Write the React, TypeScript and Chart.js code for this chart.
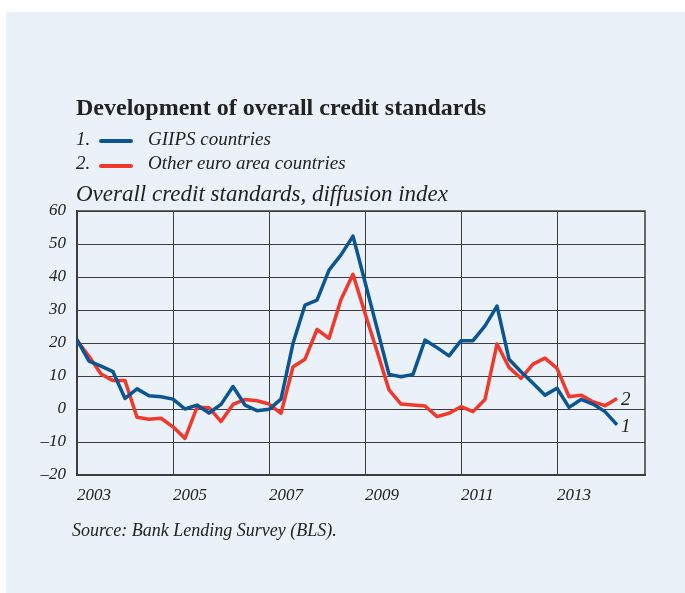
import React, { useEffect, useRef } from "react";
import { Chart, registerables } from "chart.js";
Chart.register(...registerables);

// Quarterly observations, 2003Q1 .. 2014Q2
const quarters = [
  "2003Q1","2003Q2","2003Q3","2003Q4","2004Q1","2004Q2","2004Q3","2004Q4",
  "2005Q1","2005Q2","2005Q3","2005Q4","2006Q1","2006Q2","2006Q3","2006Q4",
  "2007Q1","2007Q2","2007Q3","2007Q4","2008Q1","2008Q2","2008Q3","2008Q4",
  "2009Q1","2009Q2","2009Q3","2009Q4","2010Q1","2010Q2","2010Q3","2010Q4",
  "2011Q1","2011Q2","2011Q3","2011Q4","2012Q1","2012Q2","2012Q3","2012Q4",
  "2013Q1","2013Q2","2013Q3","2013Q4","2014Q1","2014Q2",
];

// 1. GIIPS countries
const giips = [
  21, 14.5, 13, 11.3, 3.2, 6.1, 4.0, 3.7,
  3.0, 0, 1.2, -1.2, 1.4, 6.8, 1.2, -0.5,
  -0.1, 3.0, 19.9, 31.5, 33.0, 42.1, 46.7, 52.4,
  38.5, 24.5, 10.5, 9.8, 10.5, 20.9, 18.6, 16.1,
  20.7, 20.7, 25.2, 31.2, 15.1, 11.3, 7.8, 4.2,
  6.3, 0.5, 2.9, 1.5, -0.8, -4.8,
];

// 2. Other euro area countries
const otherEuro = [
  20.7, 16, 10.6, 8.6, 8.6, -2.5, -3.1, -2.8,
  -5.4, -8.9, 0.5, 0.4, -3.8, 1.4, 2.9, 2.5,
  1.5, -1.3, 12.8, 15.1, 24.1, 21.4, 33.2, 40.8,
  29, 17.5, 5.8, 1.5, 1.2, 0.9, -2.3, -1.3,
  0.7, -0.8, 2.9, 19.7, 12.6, 9.3, 13.6, 15.4,
  12.3, 3.7, 4.2, 2.2, 1.0, 3.2,
];

const yTicks = [-20, -10, 0, 10, 20, 30, 40, 50, 60];
const xTickYears = [2003, 2005, 2007, 2009, 2011, 2013];
const xMin = 2003;
const xMax = 2014.833;

const seriesNames = ["GIIPS countries", "Other euro area countries"];
const endLabels = ["1", "2"];

const BLUE = "#0b5592";
const RED = "#f0392b";
const GRID = "#3c3c3c";
const TEXT = "#222222";
const BG = "#eaf1f8";
const SERIF = "'Liberation Serif', 'Times New Roman', serif";

function quarterToYear(q: string): number {
  const y = parseInt(q.slice(0, 4), 10);
  const n = parseInt(q.slice(5), 10);
  return y + (n - 1) / 4;
}

const frameAndLabels = {
  id: "frameAndLabels",
  beforeDatasetsDraw(chart: any) {
    const { ctx, chartArea } = chart;
    ctx.save();
    ctx.strokeStyle = GRID;
    ctx.lineWidth = 1.5;
    ctx.strokeRect(chartArea.left, chartArea.top, chartArea.right - chartArea.left, chartArea.bottom - chartArea.top);
    ctx.restore();
  },
  afterDatasetsDraw(chart: any) {
    const { ctx } = chart;
    ctx.save();
    ctx.font = `italic 19px ${SERIF}`;
    ctx.fillStyle = TEXT;
    ctx.textAlign = "left";
    ctx.textBaseline = "middle";
    chart.data.datasets.forEach((ds: any, i: number) => {
      const meta = chart.getDatasetMeta(i);
      const last = meta.data[meta.data.length - 1];
      if (!last) return;
      ctx.fillText(endLabels[i], last.x + 4, last.y + 2);
    });
    ctx.restore();
  },
};

export default function App() {
  const ref = useRef<HTMLCanvasElement | null>(null);

  useEffect(() => {
    if (!ref.current) return;
    const xs = quarters.map(quarterToYear);
    const chart = new Chart(ref.current, {
      type: "line",
      data: {
        datasets: [
          {
            label: seriesNames[0],
            data: xs.map((x, i) => ({ x, y: giips[i] })),
            borderColor: BLUE,
            borderWidth: 3.5,
            pointRadius: 0,
            tension: 0,
            borderJoinStyle: "round",
          },
          {
            label: seriesNames[1],
            data: xs.map((x, i) => ({ x, y: otherEuro[i] })),
            borderColor: RED,
            borderWidth: 3.5,
            pointRadius: 0,
            tension: 0,
            borderJoinStyle: "round",
          },
        ],
      },
      options: {
        animation: false,
        responsive: false,
        maintainAspectRatio: false,
        devicePixelRatio: 1,
        layout: { padding: { left: 0, top: 199, right: 40, bottom: 0 } },
        plugins: {
          legend: { display: false },
          tooltip: { enabled: false },
          title: { display: false },
        },
        scales: {
          x: {
            type: "linear",
            min: xMin,
            max: xMax,
            afterBuildTicks: (s: any) => {
              s.ticks = xTickYears.map((v) => ({ value: v }));
            },
            afterFit: (s: any) => {
              s.height = 118;
            },
            grid: { color: GRID, lineWidth: 1, drawTicks: false },
            border: { color: GRID, width: 1.5 },
            ticks: {
              autoSkip: false,
              maxRotation: 0,
              minRotation: 0,
              align: "start",
              padding: 10,
              color: TEXT,
              font: { family: SERIF, style: "italic", size: 17 },
              callback: (v: any) => String(v),
            },
          },
          y: {
            type: "linear",
            min: -20,
            max: 60,
            afterBuildTicks: (s: any) => {
              s.ticks = yTicks.map((v) => ({ value: v }));
            },
            afterFit: (s: any) => {
              s.width = 71;
            },
            grid: { color: GRID, lineWidth: 1, drawTicks: false },
            border: { color: GRID, width: 1.5 },
            ticks: {
              padding: 11,
              color: TEXT,
              font: { family: SERIF, style: "italic", size: 17 },
              callback: (v: any) => (v < 0 ? "\u2013" + Math.abs(v) : String(v)),
            },
          },
        },
      },
      plugins: [frameAndLabels],
    });
    return () => chart.destroy();
  }, []);

  const abs = (left: number, top: number, extra: any = {}) => ({
    position: "absolute" as const,
    left,
    top,
    lineHeight: 1,
    whiteSpace: "nowrap" as const,
    color: TEXT,
    fontFamily: SERIF,
    ...extra,
  });

  return (
    <div
      style={{
        position: "absolute",
        left: 6,
        top: 12,
        width: 679,
        height: 581,
        background: BG,
        overflow: "hidden",
      }}
    >
      <canvas ref={ref} width={679} height={581} style={{ position: "absolute", left: 0, top: 0, width: 679, height: 581 }} />
      <div style={abs(70, 83, { fontSize: 24, fontWeight: "bold" })}>Development of overall credit standards</div>
      <div style={abs(70, 117, { fontSize: 19, fontStyle: "italic" })}>1.</div>
      <div style={{ position: "absolute", left: 93, top: 127, width: 34, height: 4, borderRadius: 2, background: BLUE }} />
      <div style={abs(142, 117, { fontSize: 19, fontStyle: "italic" })}>{seriesNames[0]}</div>
      <div style={abs(70, 141, { fontSize: 19, fontStyle: "italic" })}>2.</div>
      <div style={{ position: "absolute", left: 93, top: 152, width: 34, height: 4, borderRadius: 2, background: RED }} />
      <div style={abs(142, 141, { fontSize: 19, fontStyle: "italic" })}>{seriesNames[1]}</div>
      <div style={abs(70, 170, { fontSize: 23, fontStyle: "italic" })}>Overall credit standards, diffusion index</div>
      <div style={abs(66, 509, { fontSize: 18, fontStyle: "italic" })}>Source: Bank Lending Survey (BLS).</div>
    </div>
  );
}
